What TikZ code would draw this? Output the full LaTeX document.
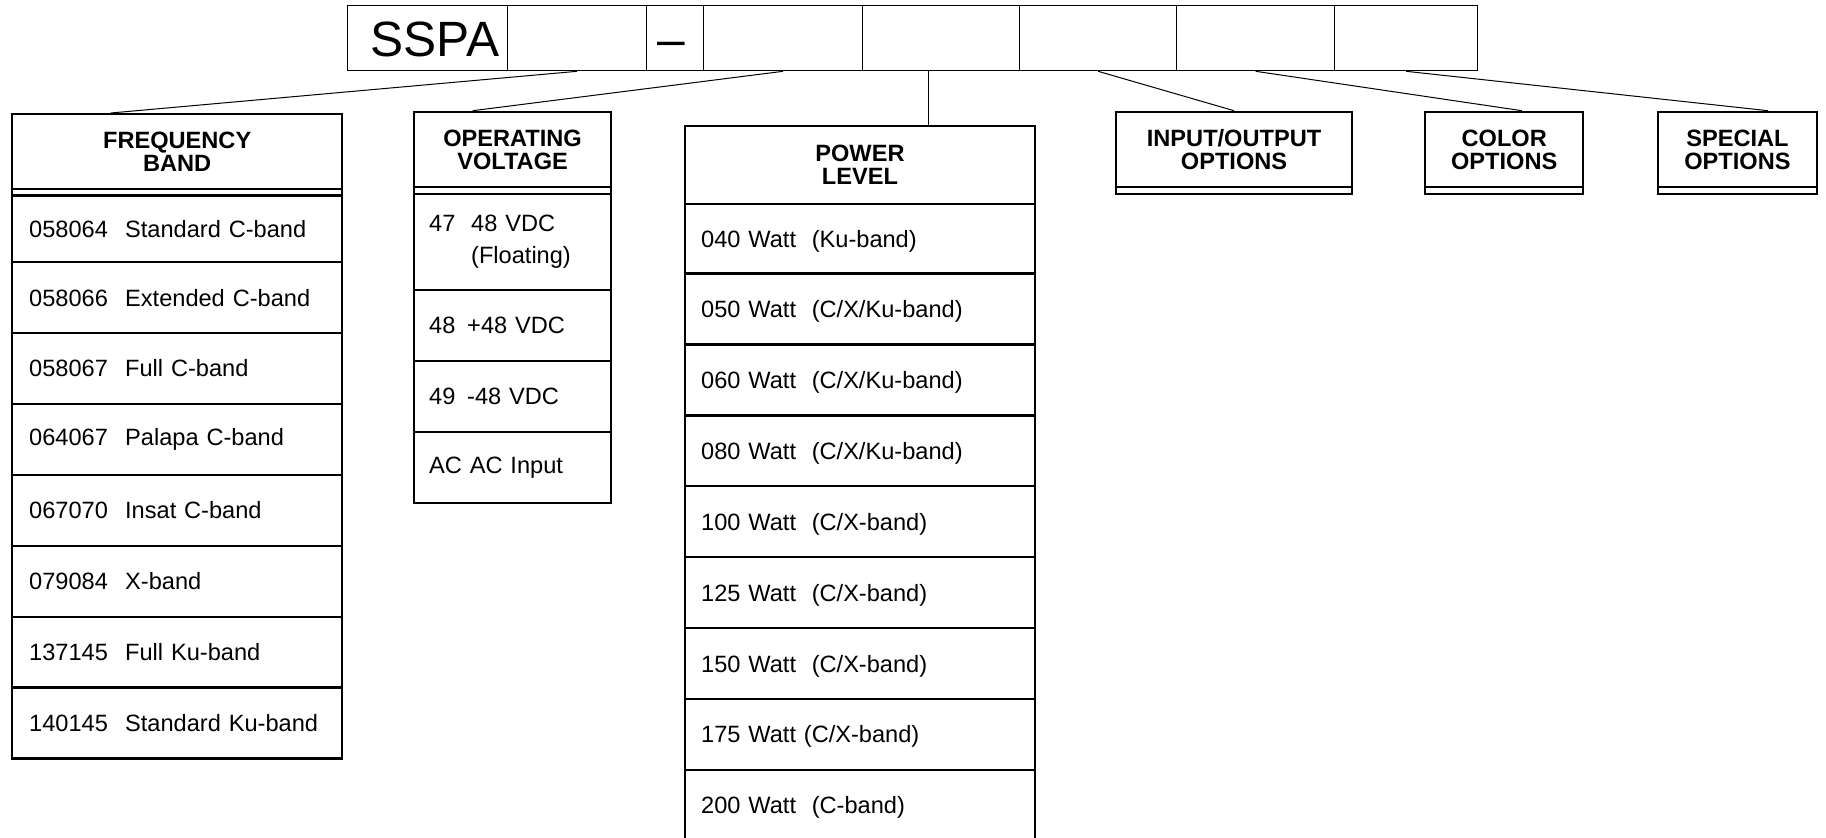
\documentclass[tikz,border=0pt]{standalone}
\usepackage{fontspec}
\setmainfont{Liberation Sans}
\usetikzlibrary{calc}
\def\u{0.5pt}
\begin{document}
\begin{tikzpicture}[x=0.5pt,y=-0.5pt,
  cell/.style={draw, line width=0.65pt, anchor=north west, inner sep=0pt, minimum height=65*\u},
  big/.style={anchor=base, inner sep=0pt, font=\fontsize{24.8pt}{24.8pt}\selectfont},
  hdr/.style={draw, line width=1.2pt, anchor=north west, inner sep=0pt, align=center,
    font=\fontsize{11.8pt}{11.5pt}\selectfont\bfseries},
  strip/.style={draw, line width=1.2pt, anchor=north west, inner sep=0pt},
  item/.style={draw, line width=1.2pt, anchor=north west, inner ysep=0pt, align=left,
    font=\fontsize{11.8pt}{16pt}\selectfont},
  link/.style={line width=0.5pt}]
\useasboundingbox (0,0) rectangle (1826,837);

% top code row
\node[cell, minimum width=160*\u] (c1) at (347,5) {};
\node[cell, minimum width=139*\u] (c2) at (507,5) {};
\node[cell, minimum width=57*\u]  (c3) at (646,5) {};
\node[cell, minimum width=159*\u] (c4) at (703,5) {};
\node[cell, minimum width=157*\u] (c5) at (862,5) {};
\node[cell, minimum width=157*\u] (c6) at (1019,5) {};
\node[cell, minimum width=158*\u] (c7) at (1176,5) {};
\node[cell, minimum width=143*\u] (c8) at (1334,5) {};
\node[big] (sspa) at (435,56) {SSPA};
\node[big] (dash) at (671,56) {–};

% frequency band
\node[hdr, minimum width=330*\u, minimum height=74.7*\u] (fh) at (11,113) {FREQUENCY\\BAND};
\node[strip, minimum width=330*\u, minimum height=6.6*\u] (fs) at (11,187.7) {};
\begin{scope}[item/.append style={text width=296*\u, inner xsep=17*\u}]
\node[item, minimum height=66.7*\u] (f1) at (11,194.3) {\makebox[48pt][l]{058064}Standard C-band};
\node[item, minimum height=70.9*\u] (f2) at (11,261.0) {\makebox[48pt][l]{058066}Extended C-band};
\node[item, minimum height=70.9*\u] (f3) at (11,331.9) {\makebox[48pt][l]{058067}Full C-band};
\node[item, minimum height=70.9*\u] (f4) at (11,402.8) {\makebox[48pt][l]{064067}Palapa C-band};
\node[item, minimum height=70.9*\u] (f5) at (11,473.7) {\makebox[48pt][l]{067070}Insat C-band};
\node[item, minimum height=70.9*\u] (f6) at (11,544.6) {\makebox[48pt][l]{079084}X-band};
\node[item, minimum height=70.9*\u] (f7) at (11,615.5) {\makebox[48pt][l]{137145}Full Ku-band};
\node[item, minimum height=70.9*\u] (f8) at (11,686.4) {\makebox[48pt][l]{140145}Standard Ku-band};
\end{scope}

% operating voltage
\node[hdr, minimum width=197.3*\u, minimum height=75*\u] (oh) at (412.7,110.7) {OPERATING\\VOLTAGE};
\node[strip, minimum width=197.3*\u, minimum height=7*\u] (os) at (412.7,185.7) {};
\begin{scope}[item/.append style={text width=166.7*\u, inner xsep=15.3*\u}]
\node[item, minimum height=96.3*\u] (o1) at (412.7,192.7) {47\ \ 48 VDC\\\hphantom{47\ \ }(Floating)};
\node[item, minimum height=70.9*\u] (o2) at (412.7,289.0) {48 \,+48 VDC};
\node[item, minimum height=70.9*\u] (o3) at (412.7,359.9) {49 \,-48 VDC};
\node[item, minimum height=70.9*\u] (o4) at (412.7,430.8) {AC AC Input};
\end{scope}

% power level
\node[hdr, minimum width=350.5*\u, minimum height=78.2*\u] (ph) at (683.5,124.5) {POWER\\LEVEL};
\begin{scope}[item/.append style={text width=317.5*\u, inner xsep=16.5*\u, text height=10pt, text depth=1.4pt}]
\node[item, minimum height=69.6*\u] (p1) at (683.5,202.7) {040 Watt\ \ (Ku-band)};
\node[item, minimum height=70.9*\u] (p2) at (683.5,272.3) {050 Watt\ \ (C/X/Ku-band)};
\node[item, minimum height=70.9*\u] (p3) at (683.5,343.2) {060 Watt\ \ (C/X/Ku-band)};
\node[item, minimum height=70.9*\u] (p4) at (683.5,414.1) {080 Watt\ \ (C/X/Ku-band)};
\node[item, minimum height=70.9*\u] (p5) at (683.5,485.0) {100 Watt\ \ (C/X-band)};
\node[item, minimum height=70.9*\u] (p6) at (683.5,555.9) {125 Watt\ \ (C/X-band)};
\node[item, minimum height=70.9*\u] (p7) at (683.5,626.8) {150 Watt\ \ (C/X-band)};
\node[item, minimum height=70.9*\u] (p8) at (683.5,697.7) {175 Watt (C/X-band)};
\node[item, minimum height=70.9*\u] (p9) at (683.5,768.6) {200 Watt\ \ (C-band)};
\end{scope}

% option boxes
\node[hdr, minimum width=235.7*\u, minimum height=75*\u] (ih) at (1115,110.7) {INPUT/OUTPUT\\OPTIONS};
\node[strip, minimum width=235.7*\u, minimum height=7*\u] (is) at (1115,185.7) {};
\node[hdr, minimum width=158*\u, minimum height=75*\u] (ch) at (1424,110.7) {COLOR\\OPTIONS};
\node[strip, minimum width=158*\u, minimum height=7*\u] (cs) at (1424,185.7) {};
\node[hdr, minimum width=159*\u, minimum height=75*\u] (sh) at (1656.7,110.7) {SPECIAL\\OPTIONS};
\node[strip, minimum width=159*\u, minimum height=7*\u] (ss) at (1656.7,185.7) {};

% connectors
\coordinate (pw) at ([xshift=-6.25pt]c5.south);
\draw[link] (c2.south) -- ($(fh.north west)!0.3!(fh.north east)$);
\draw[link] (c4.south) -- ($(oh.north west)!0.3!(oh.north east)$);
\draw[link] (pw) -- (pw |- ph.north);
\draw[link] (c6.south) -- (ih.north);
\draw[link] (c7.south) -- ($(ch.north west)!0.61!(ch.north east)$);
\draw[link] (c8.south) -- ($(sh.north west)!0.69!(sh.north east)$);
\end{tikzpicture}
\end{document}
